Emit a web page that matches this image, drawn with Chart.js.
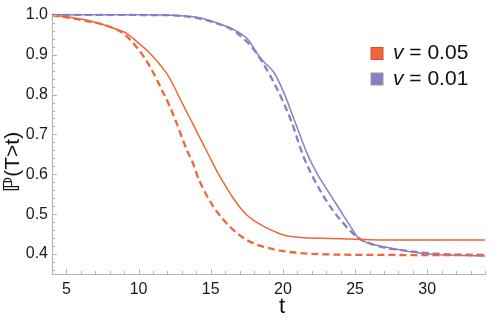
<!DOCTYPE html>
<html>
<head>
<meta charset="utf-8">
<script src="https://cdn.jsdelivr.net/npm/chart.js@4.4.1/dist/chart.umd.min.js"></script>
<style>
html,body{margin:0;padding:0;background:#fff;}
#wrap{width:498px;height:327px;position:relative;}
</style>
</head>
<body>
<div id="wrap"><canvas id="c" width="498" height="327"></canvas></div>
<script>
// ---- data ----
const legendValues = ['0.05', '0.01'];
const xTicks = [5, 10, 15, 20, 25, 30];
const yTicks = [0.4, 0.5, 0.6, 0.7, 0.8, 0.9, 1.0];

// v = 0.05, simulation (solid)
const simFastT = [4, 5.25, 6.2, 7.3, 8.5, 9.2, 9.9, 10.8, 11.5, 12.0, 12.4, 13.0, 13.5, 14.0, 14.5, 15.0, 15.5, 16.0, 16.5, 17.0, 17.5, 18.0, 18.7, 19.4, 20.1, 21.5, 23.3, 25, 27, 34];
const simFastP = [0.999, 0.994, 0.988, 0.978, 0.963, 0.953, 0.932, 0.903, 0.874, 0.850, 0.824, 0.780, 0.745, 0.709, 0.674, 0.638, 0.603, 0.572, 0.543, 0.518, 0.498, 0.484, 0.469, 0.457, 0.447, 0.441, 0.439, 0.437, 0.435, 0.435];
// v = 0.05, theory (dashed)
const theoFastT = [4, 6.2, 8.0, 8.95, 9.65, 10.35, 11.0, 11.6, 12.1, 12.65, 13.35, 13.7, 14.2, 15.2, 16.35, 17.5, 19.1, 21, 23.3, 26, 34];
const theoFastP = [0.999, 0.986, 0.970, 0.953, 0.928, 0.895, 0.856, 0.812, 0.775, 0.727, 0.660, 0.634, 0.585, 0.518, 0.468, 0.435, 0.414, 0.403, 0.399, 0.398, 0.397];
// v = 0.01, simulation (solid)
const simSlowT = [4, 10, 12, 14.3, 15.7, 16.6, 17.5, 18.45, 19.4, 20.05, 20.7, 21.7, 22.4, 23.1, 24, 24.6, 25.25, 25.8, 26.5, 27.9, 29, 30.5, 32, 34];
const simSlowP = [1.0, 1.0, 0.999, 0.992, 0.976, 0.963, 0.941, 0.891, 0.854, 0.806, 0.745, 0.650, 0.600, 0.559, 0.508, 0.474, 0.439, 0.429, 0.422, 0.412, 0.405, 0.399, 0.397, 0.395];
// v = 0.01, theory (dashed)
const theoSlowT = [4, 12, 14.3, 15.7, 16.6, 18.0, 19.15, 19.95, 20.6, 21.45, 22.85, 24, 25.15, 26.8, 28.2, 30.5, 34];
const theoSlowP = [1.0, 0.999, 0.990, 0.975, 0.960, 0.912, 0.845, 0.787, 0.731, 0.642, 0.543, 0.485, 0.443, 0.418, 0.410, 0.401, 0.398];

const ORANGE = '#F0663A';
const PURPLE = '#8C7EC4';
const AXIS = '#b4b4b4';
const FONT = '"Liberation Sans", Arial, sans-serif';

const pts = (t, p) => t.map((x, i) => ({x: x, y: p[i]}));

const inwardTicks = {
  id: 'inwardTicks',
  afterDraw(chart) {
    const ctx = chart.ctx, xs = chart.scales.x, ys = chart.scales.y;
    const a = chart.chartArea;
    ctx.save();
    ctx.strokeStyle = AXIS;
    ctx.lineWidth = 1;
    for (let t = Math.ceil(xs.min); t <= xs.max; t++) {
      const px = Math.round(xs.getPixelForValue(t)) + 0.5;
      const len = (t % 5 === 0) ? 5 : 3;
      ctx.beginPath(); ctx.moveTo(px, a.bottom); ctx.lineTo(px, a.bottom - len); ctx.stroke();
    }
    for (let k = Math.ceil(ys.min * 50); k <= Math.floor(ys.max * 50); k++) {
      const v = k / 50;
      const py = Math.round(ys.getPixelForValue(v)) + 0.5;
      const len = (k % 5 === 0) ? 5 : 3;
      ctx.beginPath(); ctx.moveTo(a.left, py); ctx.lineTo(a.left + len, py); ctx.stroke();
    }
    // axis titles
    ctx.fillStyle = '#111';
    ctx.font = '22px ' + FONT;
    ctx.textAlign = 'center';
    ctx.textBaseline = 'alphabetic';
    ctx.fillText('t', 282, 313);
    ctx.save();
    ctx.translate(19, 162);
    ctx.rotate(-Math.PI / 2);
    ctx.textAlign = 'left';
    ctx.font = '22px "DejaVu Sans", sans-serif';
    const pw = ctx.measureText('\u2119').width;
    ctx.font = '21px ' + FONT;
    const rw = ctx.measureText('(T>t)').width;
    const x0 = -(pw + rw) / 2;
    ctx.font = '22px "DejaVu Sans", sans-serif';
    ctx.fillText('\u2119', x0, 0);
    ctx.font = '21px ' + FONT;
    ctx.fillText('(T>t)', x0 + pw, 0);
    ctx.restore();
    // legend
    const items = [chart.data.datasets[0], chart.data.datasets[2]];
    items.forEach((ds, i) => {
      const y0 = 47.5 + i * 25.5;
      ctx.fillStyle = ds.borderColor;
      ctx.fillRect(371, y0, 12, 12);
      ctx.strokeStyle = i === 0 ? '#c7552f' : '#9a9a9a';
      ctx.lineWidth = 1;
      ctx.strokeRect(371, y0, 12, 12);
      ctx.fillStyle = '#111';
      ctx.textAlign = 'left';
      ctx.font = 'italic 21px ' + FONT;
      ctx.fillText('v', 393, y0 + 11.5);
      const w = ctx.measureText('v').width;
      ctx.font = '21px ' + FONT;
      ctx.fillText(' = ' + legendValues[i], 393 + w, y0 + 11.5);
    });
    ctx.restore();
  }
};

new Chart(document.getElementById('c'), {
  type: 'line',
  data: {
    datasets: [
      {label: 'v = 0.05', data: pts(simFastT, simFastP), borderColor: ORANGE, borderWidth: 1.5, pointRadius: 0, cubicInterpolationMode: 'monotone', fill: false},
      {label: 'v = 0.05 theory', data: pts(theoFastT, theoFastP), borderColor: ORANGE, borderWidth: 2.3, borderDash: [7, 4], pointRadius: 0, cubicInterpolationMode: 'monotone', fill: false},
      {label: 'v = 0.01', data: pts(simSlowT, simSlowP), borderColor: PURPLE, borderWidth: 1.5, pointRadius: 0, cubicInterpolationMode: 'monotone', fill: false},
      {label: 'v = 0.01 theory', data: pts(theoSlowT, theoSlowP), borderColor: PURPLE, borderWidth: 2.3, borderDash: [7, 4], pointRadius: 0, cubicInterpolationMode: 'monotone', fill: false}
    ]
  },
  options: {
    responsive: false,
    animation: false,
    devicePixelRatio: 1,
    layout: {padding: {top: 12, right: 13, left: 0, bottom: 0}},
    plugins: {legend: {display: false}, tooltip: {enabled: false}},
    scales: {
      x: {
        type: 'linear', min: 4, max: 34,
        afterBuildTicks: s => { s.ticks = xTicks.map(v => ({value: v})); },
        afterFit: s => { s.height = 53; },
        grid: {display: false, drawTicks: false, tickLength: 0},
        border: {display: true, color: AXIS, width: 1},
        ticks: {color: '#1a1a1a', font: {family: FONT, size: 16}, padding: 6, maxRotation: 0}
      },
      y: {
        type: 'linear', min: 0.35, max: 1.003,
        afterBuildTicks: s => { s.ticks = yTicks.map(v => ({value: v})); },
        afterFit: s => { s.width = 52; },
        grid: {display: false, drawTicks: false, tickLength: 0},
        border: {display: true, color: AXIS, width: 1},
        ticks: {color: '#1a1a1a', font: {family: FONT, size: 16}, padding: 4, callback: v => Number(v).toFixed(1)}
      }
    }
  },
  plugins: [inwardTicks]
});
</script>
</body>
</html>
